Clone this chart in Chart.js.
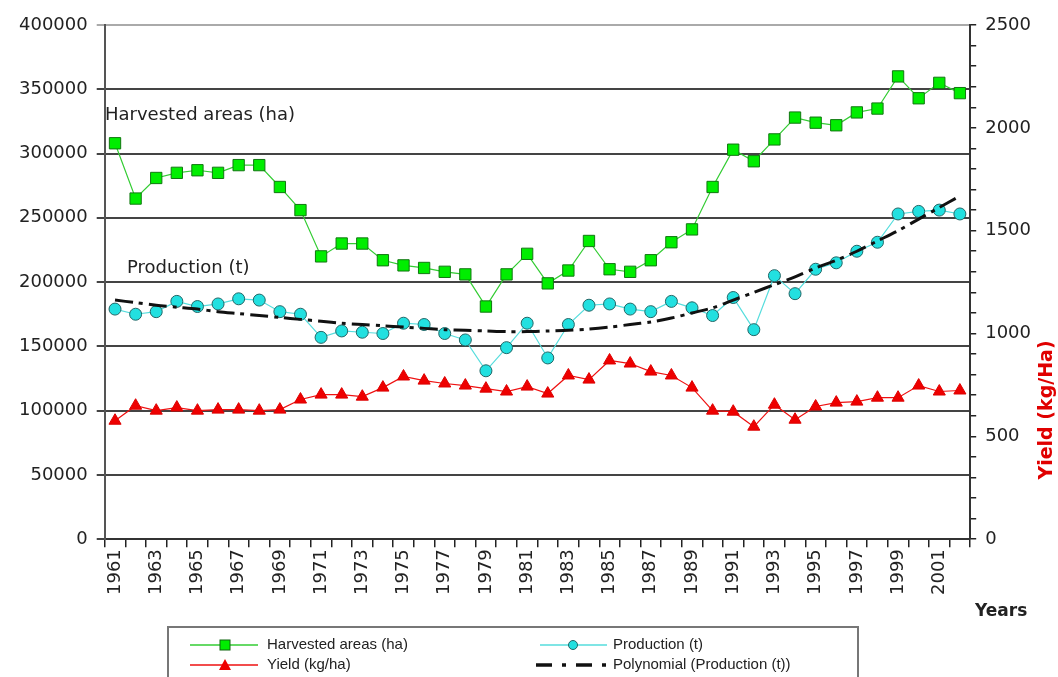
<!DOCTYPE html>
<html>
<head>
<meta charset="utf-8">
<script src="https://cdn.jsdelivr.net/npm/chart.js@4"></script>
<style>
  html, body { margin: 0; padding: 0; background: #fff; }
  #wrap { width: 1058px; height: 677px; }
</style>
</head>
<body>
<div id="wrap"><canvas id="chart" width="1058" height="677"></canvas></div>
<script>
// years 1961 - 2002
const years = [];
for (let y = 1961; y <= 2002; y++) years.push(String(y));

const harvested = [308000, 265000, 281000, 285000, 287000, 285000, 291000, 291000, 274000, 256000,
  220000, 230000, 230000, 217000, 213000, 211000, 208000, 206000, 181000, 206000,
  222000, 199000, 209000, 232000, 210000, 208000, 217000, 231000, 241000, 274000,
  303000, 294000, 311000, 328000, 324000, 322000, 332000, 335000, 360000, 343000,
  355000, 347000];

const production = [179000, 175000, 177000, 185000, 181000, 183000, 187000, 186000, 177000, 175000,
  157000, 162000, 161000, 160000, 168000, 167000, 160000, 155000, 131000, 149000,
  168000, 141000, 167000, 182000, 183000, 179000, 177000, 185000, 180000, 174000,
  188000, 163000, 205000, 191000, 210000, 215000, 224000, 231000, 253000, 255000,
  256000, 253000];

const yieldKg = [576, 649, 625, 640, 625, 630, 630, 625, 630, 679,
  703, 703, 693, 737, 791, 771, 757, 747, 732, 718,
  742, 708, 796, 776, 869, 854, 815, 796, 737, 625,
  620, 547, 654, 581, 645, 664, 669, 688, 688, 747,
  718, 723];

// polynomial trendline of production, as drawn
const trend = [186000, 184000, 182000, 180500, 179000, 177000, 175500, 174000, 172500, 171000,
  169500, 168000, 167000, 166000, 165000, 164000, 163000, 162500, 162000, 161500,
  161500, 162000, 162500, 163500, 165000, 167000, 169000, 172000, 176000, 180000,
  186000, 192000, 198000, 204000, 211000, 217000, 224000, 232000, 240000, 249000,
  258000, 267000];

const leftTicks = [0, 50000, 100000, 150000, 200000, 250000, 300000, 350000, 400000];
const rightTicks = [0, 500, 1000, 1500, 2000, 2500];

const tickFont = { family: 'DejaVu Sans', size: 18 };

const extras = {
  id: 'extras',
  afterDraw(chart) {
    const ctx = chart.ctx;
    ctx.save();
    ctx.fillStyle = '#222';
    ctx.font = '18px "DejaVu Sans"';
    ctx.textBaseline = 'middle';
    ctx.textAlign = 'left';
    ctx.fillText('Harvested areas (ha)', 105, 115);
    ctx.fillText('Production (t)', 127, 268);

    ctx.font = 'bold 17px "DejaVu Sans"';
    ctx.fillText('Years', 975, 612);

    // right axis title, bottom to top
    ctx.save();
    ctx.translate(1047, 410);
    ctx.rotate(-Math.PI / 2);
    ctx.textAlign = 'center';
    ctx.fillStyle = '#e00000';
    ctx.font = 'bold 19px "DejaVu Sans"';
    ctx.fillText('Yield (kg/Ha)', 0, 0);
    ctx.restore();

    // legend box
    ctx.strokeStyle = '#777';
    ctx.lineWidth = 2;
    ctx.strokeRect(168, 627, 690, 70);
    ctx.font = '15px "Liberation Sans"';
    ctx.fillStyle = '#222';
    const r1 = 645, r2 = 665;
    const line = (x1, x2, y, col, w, dash) => {
      ctx.save();
      ctx.strokeStyle = col; ctx.lineWidth = w;
      ctx.setLineDash(dash || []);
      ctx.beginPath(); ctx.moveTo(x1, y); ctx.lineTo(x2, y); ctx.stroke();
      ctx.restore();
    };
    line(190, 258, r1, '#33cc33', 1.5);
    ctx.fillStyle = '#00ee00'; ctx.strokeStyle = '#116611'; ctx.lineWidth = 1;
    ctx.fillRect(220, r1 - 5, 10, 10); ctx.strokeRect(220, r1 - 5, 10, 10);
    line(190, 258, r2, '#ee1111', 1.5);
    ctx.fillStyle = '#ee0000';
    ctx.beginPath(); ctx.moveTo(225, r2 - 6); ctx.lineTo(231, r2 + 5); ctx.lineTo(219, r2 + 5); ctx.closePath(); ctx.fill();
    line(540, 607, r1, '#55dddd', 1.5);
    ctx.fillStyle = '#22e0e0'; ctx.strokeStyle = '#226666';
    ctx.beginPath(); ctx.arc(573, r1, 4.5, 0, Math.PI * 2); ctx.fill(); ctx.stroke();
    line(536, 611, r2, '#111', 3.5, [16, 10, 4, 10]);

    ctx.fillStyle = '#222';
    ctx.fillText('Harvested areas (ha)', 267, r1);
    ctx.fillText('Yield (kg/ha)', 267, r2);
    ctx.fillText('Production (t)', 613, r1);
    ctx.fillText('Polynomial (Production (t))', 613, r2);
    ctx.restore();
  }
};

new Chart(document.getElementById('chart'), {
  type: 'line',
  data: {
    labels: years,
    datasets: [
      {
        label: 'Polynomial (Production (t))',
        data: trend,
        yAxisID: 'y',
        borderColor: '#111',
        borderWidth: 3,
        borderDash: [18, 6, 4, 6],
        pointRadius: 0,
        tension: 0.3
      },
      {
        label: 'Harvested areas (ha)',
        data: harvested,
        yAxisID: 'y',
        borderColor: '#33cc33',
        borderWidth: 1.2,
        pointStyle: 'rect',
        pointRadius: 8,
        pointBackgroundColor: '#00ee00',
        pointBorderColor: '#117711',
        pointBorderWidth: 1
      },
      {
        label: 'Production (t)',
        data: production,
        yAxisID: 'y',
        borderColor: '#55dddd',
        borderWidth: 1.2,
        pointStyle: 'circle',
        pointRadius: 6,
        pointBackgroundColor: '#22e0e0',
        pointBorderColor: '#226666',
        pointBorderWidth: 1
      },
      {
        label: 'Yield (kg/ha)',
        data: yieldKg,
        yAxisID: 'y1',
        borderColor: '#ee1111',
        borderWidth: 1.2,
        pointStyle: 'triangle',
        pointRadius: 7,
        pointBackgroundColor: '#ee0000',
        pointBorderColor: '#dd0000',
        pointBorderWidth: 1
      }
    ]
  },
  options: {
    responsive: false,
    animation: false,
    layout: { padding: { left: 10, right: 18, top: 25, bottom: 80 } },
    plugins: {
      legend: { display: false },
      tooltip: { enabled: false }
    },
    scales: {
      x: {
        type: 'category',
        offset: true,
        grid: { drawOnChartArea: false, offset: true, tickLength: 8, color: '#222', lineWidth: 1.5 },
        border: { display: true, color: '#333', width: 2 },
        ticks: {
          autoSkip: false,
          maxRotation: 90,
          minRotation: 90,
          padding: 2,
          color: '#222',
          font: tickFont,
          callback: (v, i) => (i % 2 === 0 ? years[i] : '')
        }
      },
      y: {
        position: 'left',
        min: 0,
        max: 400000,
        afterBuildTicks: (s) => { s.ticks = leftTicks.map(v => ({ value: v })); },
        grid: {
          color: (c) => (c.tick && c.tick.value === 400000 ? '#aaa' : '#444'),
          lineWidth: 2,
          tickLength: 8
        },
        border: { display: true, color: '#555', width: 2 },
        ticks: { padding: 9, color: '#222', font: tickFont, callback: (v) => String(v) }
      },
      y1: {
        position: 'right',
        min: 0,
        max: 2500,
        grid: { drawOnChartArea: false, tickLength: 6, color: '#222', lineWidth: 1.5 },
        border: { display: true, color: '#333', width: 2 },
        ticks: {
          stepSize: 100,
          autoSkip: false,
          padding: 9,
          color: '#222',
          font: tickFont,
          callback: (v) => (rightTicks.includes(v) ? String(v) : '')
        }
      }
    }
  },
  plugins: [extras]
});
</script>
</body>
</html>
